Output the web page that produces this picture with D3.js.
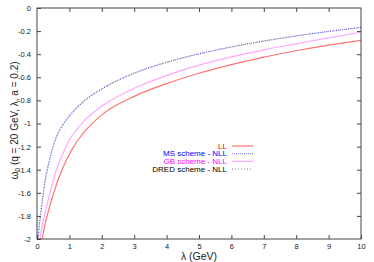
<!DOCTYPE html>
<html>
<head>
<meta charset="utf-8">
<script src="https://cdn.jsdelivr.net/npm/d3@7"></script>
<style>
  body { margin: 0; background: #fff; }
  text { font-family: "Liberation Sans", Arial, sans-serif; }
</style>
</head>
<body>
<div id="graf"></div>
<script>
// data
const lambdaMS = [0.03, 0.08, 0.15, 0.25, 0.4, 0.6, 0.8, 1, 1.5, 2, 3, 4, 5, 6, 7, 8, 9, 10];
const valMS = [-2.0, -1.86, -1.7, -1.5, -1.3, -1.115, -1.01, -0.935, -0.795, -0.7, -0.565, -0.47, -0.397, -0.337, -0.286, -0.242, -0.203, -0.168];

const lambdaGB = [0.09, 0.15, 0.25, 0.4, 0.6, 0.8, 1, 1.25, 1.5, 2, 3, 4, 5, 6, 7, 8, 9, 10];
const valGB = [-2.0, -1.9, -1.77, -1.6, -1.4, -1.26, -1.14, -1.045, -0.965, -0.85, -0.695, -0.585, -0.495, -0.423, -0.362, -0.31, -0.258, -0.21];

const lambdaLL = [0.16, 0.25, 0.35, 0.5, 0.7, 0.9, 1.1, 1.3, 1.5, 2, 3, 4, 5, 6, 7, 8, 9, 10];
const valLL = [-2.0, -1.87, -1.76, -1.615, -1.45, -1.32, -1.215, -1.13, -1.06, -0.925, -0.765, -0.655, -0.565, -0.49, -0.425, -0.37, -0.322, -0.28];

// DRED sits on top of MS in the picture
const lambdaDRED = lambdaMS;
const valDRED = valMS;

const xTicks = [0, 1, 2, 3, 4, 5, 6, 7, 8, 9, 10];
const yTicks = [0, -0.2, -0.4, -0.6, -0.8, -1, -1.2, -1.4, -1.6, -1.8, -2];

const series = [
  { name: "LL", xs: lambdaLL, ys: valLL, color: "#ff0000", dash: null, op: 0.55 },
  { name: "MS scheme - NLL", xs: lambdaMS, ys: valMS, color: "#0000ff", dash: "1,1", op: 0.45 },
  { name: "GB scheme - NLL", xs: lambdaGB, ys: valGB, color: "#ff00ff", dash: null, op: 0.35 },
  { name: "DRED scheme - NLL", xs: lambdaDRED, ys: valDRED, color: "#000000", dash: "1,2", op: 0.4 },
];

const ancho_total = 374;
const alto_total = 262;
const margins = { top: 8, left: 37, right: 13, bottom: 23 };
const ancho = ancho_total - margins.left - margins.right;
const alto = alto_total - margins.top - margins.bottom;

const svg = d3.select("#graf")
  .append("svg")
  .attr("width", ancho_total)
  .attr("height", alto_total);

const g = svg.append("g")
  .attr("transform", `translate(${margins.left}, ${margins.top})`);

const x = d3.scaleLinear().domain([0, 10]).range([0, ancho]);
const y = d3.scaleLinear().domain([-2, 0]).range([alto, 0]);

g.append("clipPath").attr("id", "clip")
  .append("rect").attr("width", ancho).attr("height", alto);

// curves
const line = d3.line()
  .x((d) => x(d[0]))
  .y((d) => y(d[1]))
  .curve(d3.curveMonotoneX);

series.forEach((s) => {
  g.append("path")
    .datum(s.xs.map((v, i) => [v, s.ys[i]]))
    .attr("clip-path", "url(#clip)")
    .attr("fill", "none")
    .attr("stroke", s.color)
    .attr("stroke-opacity", s.op)
    .attr("stroke-width", 1.2)
    .attr("stroke-dasharray", s.dash)
    .attr("d", line);
});

// axes, gnuplot style: inward ticks on all sides
const axisCol = "#444";
const tl = 4;
const ejeAbajo = g.append("g").attr("transform", `translate(0,${alto})`)
  .call(d3.axisBottom(x).tickValues(xTicks).tickSizeInner(-tl).tickSizeOuter(0).tickPadding(5).tickFormat(d3.format("d")));
const ejeArriba = g.append("g")
  .call(d3.axisTop(x).tickValues(xTicks.slice(1, -1)).tickSizeInner(-tl).tickSizeOuter(0).tickFormat(""));
const ejeIzq = g.append("g")
  .call(d3.axisLeft(y).tickValues(yTicks).tickSizeInner(-tl).tickSizeOuter(0).tickPadding(6).tickFormat((d) => d === 0 ? "0" : String(+d.toFixed(1))));
const ejeDer = g.append("g").attr("transform", `translate(${ancho},0)`)
  .call(d3.axisRight(y).tickValues(yTicks.slice(1, -1)).tickSizeInner(-tl).tickSizeOuter(0).tickFormat(""));

[ejeAbajo, ejeArriba, ejeIzq, ejeDer].forEach((a) => {
  a.select(".domain").remove();
  a.selectAll("line").attr("stroke", axisCol);
  a.selectAll("text").attr("fill", "#222").style("font-size", "7.5px").style("font-family", "Liberation Sans, Arial, sans-serif");
});

g.append("rect")
  .attr("width", ancho).attr("height", alto)
  .attr("fill", "none").attr("stroke", axisCol).attr("stroke-width", 1);

// axis titles
svg.append("text")
  .attr("x", margins.left + ancho / 2)
  .attr("y", 260)
  .attr("text-anchor", "middle")
  .style("font-size", "10.5px")
  .attr("fill", "#222")
  .text("λ (GeV)");

const ylab = svg.append("text")
  .attr("transform", `translate(18, ${margins.top + alto / 2 - 3}) rotate(-90)`)
  .attr("text-anchor", "middle")
  .style("font-size", "10px")
  .attr("fill", "#222");
ylab.append("tspan").text("ω");
ylab.append("tspan").attr("dy", 2).style("font-size", "7px").text("0");
ylab.append("tspan").attr("dy", -2).text(" (q = 20 GeV, λ, a = 0.2)");

// legend
const legX = 227, legY = 146, legStep = 7.7;
series.forEach((s, i) => {
  const yy = legY + i * legStep;
  svg.append("text")
    .attr("x", legX).attr("y", yy + 2.7)
    .attr("text-anchor", "end")
    .style("font-size", "8px")
    .attr("fill", s.color)
    .text(s.name);
  svg.append("line")
    .attr("x1", legX + 5).attr("x2", legX + 26)
    .attr("y1", yy).attr("y2", yy)
    .attr("stroke", s.color)
    .attr("stroke-opacity", s.op)
    .attr("stroke-width", 1.2)
    .attr("stroke-dasharray", s.dash);
});
</script>
</body>
</html>
